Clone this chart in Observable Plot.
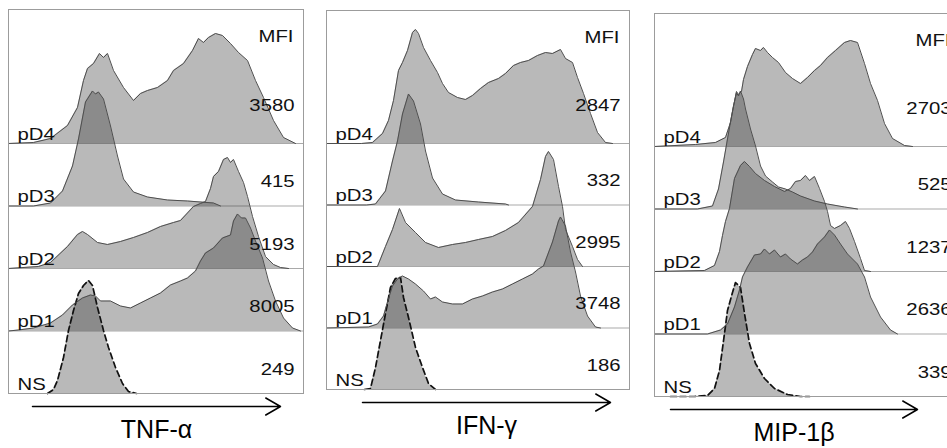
<!DOCTYPE html>
<html><head><meta charset="utf-8">
<script src="https://cdn.jsdelivr.net/npm/d3@7"></script>
<script src="https://cdn.jsdelivr.net/npm/@observablehq/plot@0.6"></script>
<style>
html,body{margin:0;padding:0;background:#fff;}
body{position:relative;width:947px;height:448px;overflow:hidden;}
svg.panel{position:absolute;overflow:visible;}
</style>
</head><body>
<script>
// ---------- data ----------
const rowNames = ["NS", "pD1", "pD2", "pD3", "pD4"];
const axisTitles = ["TNF-α", "IFN-γ", "MIP-1β"];
const mfiHeader = "MFI";
const mfiTNF = [249, 8005, 5193, 415, 3580];
const mfiIFN = [186, 3748, 2995, 332, 2847];
const mfiMIP = [339, 2636, 1237, 525, 2703];

// histograms: [fluorescence channel, event count]
const tnfNS  = [[39,0],[45,4],[49,13],[55,36],[60,63],[65,83],[70,100],[75,108],[80,113],[84,108],[89,86],[95,63],[100,46],[107,26],[114,10],[120,2],[128,0]];
const tnfPD1 = [[0,0],[10,1],[25,3],[42,8],[54,16],[64,26],[74,33],[82,36],[87,35],[92,30],[102,30],[112,25],[122,23],[132,28],[142,33],[152,38],[162,46],[172,50],[179,53],[187,60],[192,70],[197,78],[205,83],[214,93],[222,96],[225,110],[229,117],[233,113],[237,113],[242,103],[247,90],[254,73],[260,50],[267,30],[275,13],[284,3],[292,0]];
const tnfPD2 = [[0,0],[30,2],[42,6],[59,22],[69,34],[74,37],[79,34],[89,26],[99,24],[112,27],[125,31],[139,36],[152,42],[165,46],[172,48],[185,62],[192,65],[197,67],[202,80],[205,92],[210,97],[215,109],[219,111],[222,106],[225,109],[230,97],[235,86],[239,72],[244,52],[250,32],[257,12],[265,4],[272,1],[280,0]];
const tnfPD3 = [[0,0],[25,0],[42,3],[54,15],[64,40],[70,67],[77,104],[84,115],[87,112],[90,114],[95,107],[102,80],[109,50],[115,27],[125,14],[139,9],[159,6],[179,5],[205,3],[212,0]];
const tnfPD4 = [[0,0],[25,1],[42,5],[59,18],[69,36],[75,63],[79,75],[85,80],[91,90],[95,86],[99,90],[105,73],[115,56],[125,43],[132,50],[139,53],[149,56],[159,63],[165,73],[175,80],[184,93],[190,105],[195,101],[200,106],[207,110],[214,108],[222,100],[230,91],[239,83],[247,63],[255,46],[265,23],[275,6],[287,0]];

const ifnNS  = [[38,0],[44,1],[49,22],[54,49],[59,76],[64,102],[69,111],[74,112],[77,92],[82,72],[89,42],[96,22],[102,6],[109,0]];
const ifnPD1 = [[0,0],[42,1],[51,4],[57,12],[61,26],[66,42],[71,49],[76,52],[82,49],[89,44],[97,37],[104,29],[109,31],[116,26],[126,24],[136,24],[146,29],[156,32],[166,36],[176,39],[186,44],[196,49],[206,54],[212,59],[217,62],[226,86],[232,107],[234,111],[239,102],[244,76],[249,56],[254,32],[261,12],[269,1],[274,0]];
const ifnPD2 = [[0,0],[51,0],[59,20],[66,37],[73,58],[79,44],[89,34],[99,24],[112,19],[126,22],[139,24],[152,27],[166,30],[179,36],[192,44],[206,60],[214,87],[219,110],[222,115],[227,107],[232,80],[236,60],[239,37],[246,20],[251,7],[256,0]];
const ifnPD3 = [[0,0],[40,0],[49,1],[59,14],[66,44],[71,64],[76,91],[82,111],[87,104],[94,81],[99,54],[106,27],[116,11],[129,5],[152,3],[179,1],[182,0]];
const ifnPD4 = [[0,0],[35,0],[46,1],[56,10],[62,23],[67,43],[72,73],[76,81],[81,93],[86,111],[89,114],[92,110],[97,96],[104,83],[111,71],[116,60],[122,51],[131,46],[139,44],[146,48],[154,55],[162,61],[172,65],[179,70],[187,78],[194,81],[202,83],[211,88],[219,91],[226,90],[234,94],[239,85],[246,81],[251,66],[257,50],[264,30],[271,11],[279,1],[286,0]];

const mipNS  = [[16,0],[40,0],[53,1],[60,8],[65,26],[70,63],[73,86],[78,104],[81,114],[86,109],[90,83],[95,53],[101,33],[110,18],[120,8],[133,2],[146,0],[155,0]];
const mipPD1 = [[0,0],[53,0],[66,4],[73,10],[80,27],[85,44],[88,57],[93,67],[100,79],[106,80],[110,85],[115,80],[120,84],[126,77],[131,80],[136,75],[143,70],[148,74],[153,77],[158,82],[163,90],[170,97],[175,104],[180,99],[186,90],[193,80],[203,70],[210,57],[216,37],[226,17],[236,4],[243,0]];
const mipPD2 = [[0,0],[50,1],[60,6],[65,20],[68,36],[71,50],[75,63],[80,93],[86,106],[90,110],[95,105],[101,98],[110,91],[120,85],[130,80],[136,83],[141,90],[146,91],[151,96],[155,91],[160,95],[165,83],[170,70],[173,60],[176,46],[180,43],[186,46],[191,50],[195,43],[200,30],[206,13],[210,1],[216,0]];
const mipPD3 = [[0,0],[43,0],[58,3],[64,20],[69,47],[73,70],[76,87],[79,103],[82,116],[84,113],[86,118],[89,110],[91,100],[96,80],[101,63],[106,43],[111,33],[118,27],[124,22],[131,20],[138,17],[146,13],[160,8],[173,5],[190,2],[203,0]];
const mipPD4 = [[0,0],[41,2],[61,4],[71,9],[76,24],[79,40],[82,55],[84,52],[87,55],[89,67],[93,80],[98,92],[101,98],[106,96],[109,99],[113,94],[118,89],[124,84],[131,74],[138,68],[146,63],[153,69],[160,76],[166,81],[173,89],[181,96],[190,104],[196,106],[203,104],[210,83],[216,63],[223,46],[230,23],[238,8],[250,1],[258,0]];

// ---------- layout ----------
const layout = [
  {left: 8,   top: 9,  width: 295, height: 384, step: 62.5, arrow: [24, 272]},
  {left: 326, top: 10, width: 303, height: 379, step: 61.5, arrow: [36, 284]},
  {left: 654, top: 13, width: 306, height: 383, step: 62.5, arrow: [16, 263]}
];
const FONT = "Liberation Sans, Arial, Helvetica, sans-serif";
const LABEL_SIZE = 16;
const STRETCH = 1.27;

function panel(L, title, mfi, hists) {
  const mT = 2, mB = 58, mL = 2, mR = 2;
  const rows = rowNames.map((name, i) => ({name, i, off: i * L.step, mfi: mfi[i], hist: hists[i]}));
  const marks = [];
  marks.push(Plot.ruleY(rows.filter(r => r.i > 0), {y: "off", stroke: "#a9a9a9", strokeWidth: 1}));
  for (const r of rows) {
    marks.push(Plot.areaY(r.hist, {x: d => d[0], y1: r.off, y2: d => r.off + d[1], fill: "#323232", fillOpacity: 0.34, curve: "linear"}));
  }
  for (const r of rows) {
    const ns = r.i === 0;
    marks.push(Plot.line(r.hist, {x: d => d[0], y: d => r.off + d[1], curve: "linear",
      stroke: ns ? "#111" : "#4e4e4e", strokeWidth: ns ? 1.7 : 1,
      strokeDasharray: ns ? "6,3.5" : null}));
  }
  marks.push(Plot.frame({stroke: "#9c9c9c", strokeWidth: 1}));
  marks.push(Plot.text(rows, {x: 0, y: "off", text: "name", textAnchor: "start", lineAnchor: "bottom",
    dx: 9, dy: -4, fontSize: LABEL_SIZE, fontFamily: FONT, fill: "#111"}));
  marks.push(Plot.text(rows, {x: L.width, y: r => r.off + (r.name === "pD4" ? 33 : 19), text: r => String(r.mfi),
    textAnchor: "end", lineAnchor: "bottom", dx: -9, fontSize: LABEL_SIZE, fontFamily: FONT, fill: "#111"}));
  marks.push(Plot.text([mfiHeader], {x: L.width, y: L.height - 32, text: d => d,
    textAnchor: "end", lineAnchor: "bottom", dx: -10, fontSize: LABEL_SIZE, fontFamily: FONT, fill: "#111"}));
  marks.push(Plot.arrow([L.arrow], {x1: d => d[0], x2: d => d[1], y1: -13, y2: -13,
    stroke: "#000", strokeWidth: 1.5, headLength: 17, headAngle: 60}));
  marks.push(Plot.text([title], {x: (L.arrow[0] + L.arrow[1]) / 2, y: -44, text: d => d,
    textAnchor: "middle", lineAnchor: "bottom", fontSize: 25, fontFamily: FONT, fill: "#000"}));

  const svg = Plot.plot({
    width: L.width + mL + mR,
    height: L.height + mT + mB,
    marginTop: mT, marginBottom: mB, marginLeft: mL, marginRight: mR,
    x: {domain: [0, L.width], axis: null},
    y: {domain: [0, L.height], axis: null},
    style: {background: "transparent", overflow: "visible"},
    marks
  });
  svg.classList.add("panel");
  svg.style.left = (L.left - mL) + "px";
  svg.style.top = (L.top - mT) + "px";
  svg.style.maxWidth = "none";
  // widen the small in-panel labels horizontally, as in the reference figure
  svg.querySelectorAll("text").forEach(t => {
    const fs = t.closest("[font-size]");
    if (!fs || +fs.getAttribute("font-size") !== LABEL_SIZE) return;
    const tr = t.getAttribute("transform");
    if (tr && tr.includes("translate")) {
      t.setAttribute("transform", tr + ` scale(${STRETCH},1)`);
    } else {
      const x = +(t.getAttribute("x") || 0), y = +(t.getAttribute("y") || 0);
      t.setAttribute("transform", `translate(${x},${y}) scale(${STRETCH},1) translate(${-x},${-y})`);
    }
  });
  document.body.appendChild(svg);
}

panel(layout[0], axisTitles[0], mfiTNF, [tnfNS, tnfPD1, tnfPD2, tnfPD3, tnfPD4]);
panel(layout[1], axisTitles[1], mfiIFN, [ifnNS, ifnPD1, ifnPD2, ifnPD3, ifnPD4]);
panel(layout[2], axisTitles[2], mfiMIP, [mipNS, mipPD1, mipPD2, mipPD3, mipPD4]);
</script>
</body></html>
